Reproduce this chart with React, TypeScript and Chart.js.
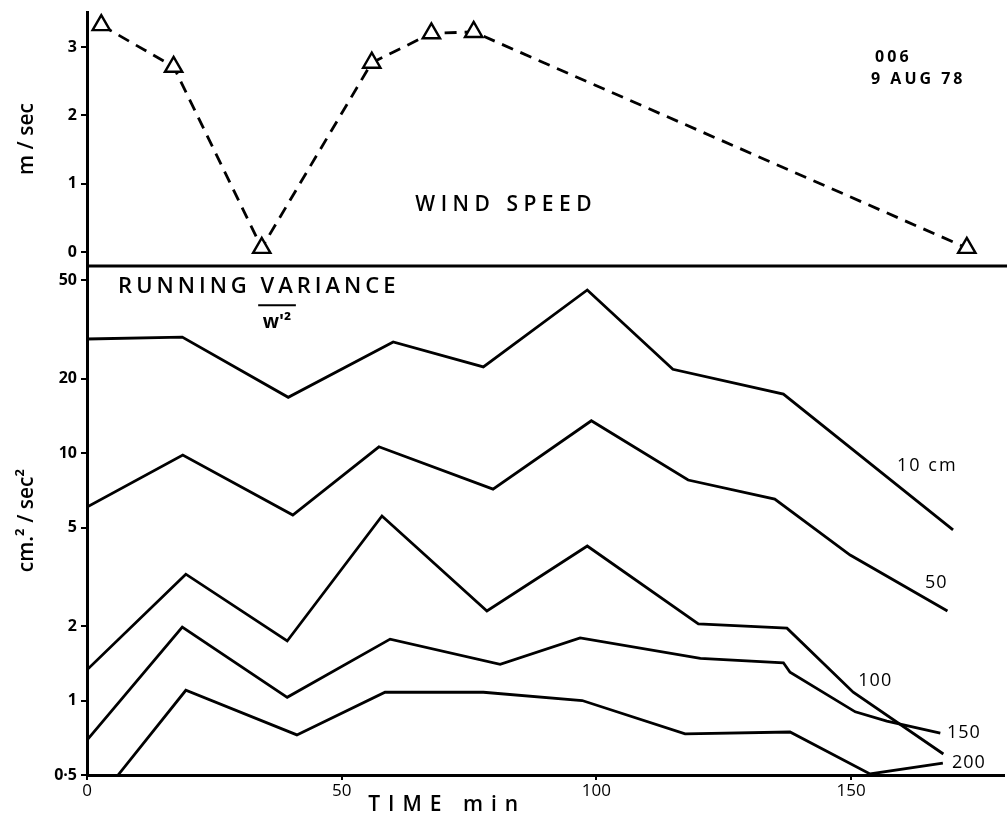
import React, { useEffect, useRef } from "react";
import { Chart, registerables } from "chart.js";

Chart.register(...registerables);

// ---- Data ----
const WIND_TIME = [2.8, 17, 34.3, 55.9, 67.6, 75.9, 172.7];
const WIND_SPEED = [3.32, 2.71, 0.06, 2.77, 3.2, 3.22, 0.06];

const T_10CM = [0, 18.7, 39.5, 60.1, 77.8, 98.2, 115, 136.7, 170];
const V_10CM = [28.9, 29.4, 16.8, 28.1, 22.3, 45.6, 21.8, 17.3, 4.89];

const T_50CM = [0, 18.8, 40.4, 57.3, 79.7, 99, 118, 135, 149.8, 168.9];
const V_50CM = [6.05, 9.82, 5.62, 10.6, 7.15, 13.5, 7.78, 6.52, 3.87, 2.3];

const T_100CM = [0, 19.4, 39.3, 57.9, 78.5, 98.2, 120, 137.4, 150.4, 168.1];
const V_100CM = [1.33, 3.24, 1.74, 5.57, 2.3, 4.21, 2.04, 1.96, 1.08, 0.608];

const T_150CM = [0, 18.7, 39.3, 59.5, 81.1, 96.8, 120.4, 136.7, 138, 150.8, 157, 167.5];
const V_150CM = [0.692, 1.98, 1.03, 1.77, 1.4, 1.79, 1.48, 1.42, 1.3, 0.9, 0.826, 0.739];

const T_200CM = [6.1, 19.4, 41.2, 58.5, 77.8, 97.2, 117.4, 138, 153.7, 168];
const V_200CM = [0.5, 1.1, 0.726, 1.08, 1.08, 1.0, 0.733, 0.746, 0.505, 0.559];

const X_TICKS = [0, 50, 100, 150];
const WIND_TICKS = [0, 1, 2, 3];
const VAR_TICKS = [0.5, 1, 2, 5, 10, 20, 50];
const VAR_TICK_LABELS = ["0·5", "1", "2", "5", "10", "20", "50"];

const FONT = '"Open Sans", "DejaVu Sans", sans-serif';

type Annot = {
  text: string;
  x: number;
  y: number;
  axis: string;
  font: string;
  spacing: string;
  align: CanvasTextAlign;
};

const ANNOTATIONS: Annot[] = [
  { text: "WIND SPEED", x: 82.3, y: 0.69, axis: "yWind", font: `600 21px ${FONT}`, spacing: "5.5px", align: "center" },
  { text: "006", x: 154.7, y: 2.85, axis: "yWind", font: `700 16px ${FONT}`, spacing: "3px", align: "left" },
  { text: "9 AUG 78", x: 153.9, y: 2.53, axis: "yWind", font: `700 16px ${FONT}`, spacing: "3px", align: "left" },
  { text: "RUNNING VARIANCE", x: 6.1, y: 46.8, axis: "yVar", font: `600 22px ${FONT}`, spacing: "4px", align: "left" },
  { text: "w'²", x: 37.3, y: 33.8, axis: "yVar", font: `700 19px ${FONT}`, spacing: "0px", align: "center" },
  { text: "10 cm", x: 159, y: 8.86, axis: "yVar", font: `400 18px ${FONT}`, spacing: "2px", align: "left" },
  { text: "50", x: 164.5, y: 2.98, axis: "yVar", font: `400 18px ${FONT}`, spacing: "1px", align: "left" },
  { text: "100", x: 151.4, y: 1.2, axis: "yVar", font: `400 18px ${FONT}`, spacing: "1px", align: "left" },
  { text: "150", x: 168.8, y: 0.739, axis: "yVar", font: `400 18px ${FONT}`, spacing: "1px", align: "left" },
  { text: "200", x: 169.8, y: 0.559, axis: "yVar", font: `400 18px ${FONT}`, spacing: "1px", align: "left" },
  { text: "TIME min", x: 70.7, y: 0.378, axis: "yVar", font: `600 21px ${FONT}`, spacing: "8px", align: "center" },
];

const OVERBAR = { x0: 33.6, x1: 41.0, y: 39.6 };

const pts = (xs: number[], ys: number[]) => xs.map((x, i) => ({ x, y: ys[i] }));

const varLine = (label: string, xs: number[], ys: number[]) => ({
  label,
  data: pts(xs, ys),
  yAxisID: "yVar",
  borderColor: "#000",
  borderWidth: 2.8,
  pointRadius: 0,
  tension: 0,
  fill: false,
});

const annotPlugin = {
  id: "annotPlugin",
  afterDraw(chart: any) {
    const { ctx, scales, chartArea } = chart;
    ctx.save();
    // panel separator
    const yw = scales.yWind;
    ctx.strokeStyle = "#000";
    ctx.lineWidth = 3;
    ctx.beginPath();
    ctx.moveTo(chartArea.left, yw.bottom);
    ctx.lineTo(chartArea.right + 3, yw.bottom);
    ctx.stroke();
    // texts
    ctx.fillStyle = "#000";
    ctx.textBaseline = "middle";
    for (const a of ANNOTATIONS) {
      const px = scales.x.getPixelForValue(a.x);
      const py = scales[a.axis].getPixelForValue(a.y);
      ctx.font = a.font;
      (ctx as any).letterSpacing = a.spacing;
      ctx.textAlign = a.align;
      ctx.fillText(a.text, px, py);
    }
    (ctx as any).letterSpacing = "0px";
    // overbar on w'^2
    ctx.lineWidth = 2;
    ctx.beginPath();
    ctx.moveTo(scales.x.getPixelForValue(OVERBAR.x0), scales.yVar.getPixelForValue(OVERBAR.y));
    ctx.lineTo(scales.x.getPixelForValue(OVERBAR.x1), scales.yVar.getPixelForValue(OVERBAR.y));
    ctx.stroke();
    ctx.restore();
  },
};

export default function App() {
  const ref = useRef<HTMLCanvasElement | null>(null);

  useEffect(() => {
    if (!ref.current) return;
    const chart = new Chart(ref.current, {
      type: "line",
      data: {
        datasets: [
          {
            label: "Wind speed",
            data: pts(WIND_TIME, WIND_SPEED),
            yAxisID: "yWind",
            borderColor: "#000",
            borderWidth: 2.8,
            borderDash: [12, 8],
            pointStyle: "triangle",
            pointRadius: 10,
            pointBorderWidth: 2.4,
            pointBackgroundColor: "#fff",
            pointBorderColor: "#000",
            tension: 0,
            fill: false,
          } as any,
          varLine("10 cm", T_10CM, V_10CM),
          varLine("50", T_50CM, V_50CM),
          varLine("100", T_100CM, V_100CM),
          varLine("150", T_150CM, V_150CM),
          varLine("200", T_200CM, V_200CM),
        ],
      },
      options: {
        responsive: false,
        animation: false,
        layout: { autoPadding: false, padding: { left: 0, top: 12, right: 3, bottom: 0 } },
        plugins: {
          legend: { display: false },
          tooltip: { enabled: false },
          title: { display: false },
        },
        scales: {
          x: {
            type: "linear",
            min: 0,
            max: 180,
            afterBuildTicks: (s: any) => {
              s.ticks = X_TICKS.map((v) => ({ value: v }));
            },
            afterFit: (s: any) => {
              s.height = 48;
              s.paddingLeft = 0;
              s.paddingRight = 0;
            },
            border: { display: true, width: 3, color: "#000" },
            grid: { display: true, drawOnChartArea: false, drawTicks: true, tickLength: 5, lineWidth: 2, color: "#000" },
            ticks: {
              color: "#000",
              padding: 1,
              autoSkip: false,
              maxRotation: 0,
              font: { family: FONT, size: 17, weight: "normal" },
              callback: (v: any) => String(v),
            },
          },
          yVar: {
            type: "logarithmic",
            position: "left",
            stack: "panels",
            stackWeight: 509,
            min: 0.5,
            max: 57,
            afterBuildTicks: (s: any) => {
              s.ticks = VAR_TICKS.map((v) => ({ value: v }));
            },
            afterFit: (s: any) => {
              s.width = 87;
              s.paddingTop = 0;
              s.paddingBottom = 0;
            },
            border: { display: true, width: 3, color: "#000" },
            grid: { display: true, drawOnChartArea: false, drawTicks: true, tickLength: 6, lineWidth: 2, color: "#000" },
            ticks: {
              color: "#000",
              padding: 4,
              autoSkip: false,
              font: { family: FONT, size: 16, weight: "bold" },
              callback: (_v: any, i: number) => VAR_TICK_LABELS[i],
            },
            title: {
              display: true,
              text: "cm.² / sec²",
              color: "#000",
              padding: { top: 14, bottom: 0 },
              font: { family: FONT, size: 21, weight: "600" },
            },
          },
          yWind: {
            type: "linear",
            position: "left",
            stack: "panels",
            stackWeight: 254,
            min: -0.205,
            max: 3.512,
            afterBuildTicks: (s: any) => {
              s.ticks = WIND_TICKS.map((v) => ({ value: v }));
            },
            afterFit: (s: any) => {
              s.width = 87;
              s.paddingTop = 0;
              s.paddingBottom = 0;
            },
            border: { display: true, width: 3, color: "#000" },
            grid: { display: true, drawOnChartArea: false, drawTicks: true, tickLength: 6, lineWidth: 2, color: "#000" },
            ticks: {
              color: "#000",
              padding: 4,
              autoSkip: false,
              font: { family: FONT, size: 16, weight: "bold" },
              callback: (v: any) => String(v),
            },
            title: {
              display: true,
              text: "m / sec",
              color: "#000",
              padding: { top: 14, bottom: 0 },
              font: { family: FONT, size: 21, weight: "600" },
            },
          },
        },
      } as any,
      plugins: [annotPlugin],
    });
    return () => chart.destroy();
  }, []);

  return (
    <div style={{ position: "fixed", left: 0, top: 0, width: 1007, height: 823, background: "#fff" }}>
      <canvas ref={ref} width={1007} height={823} style={{ display: "block" }} />
    </div>
  );
}
